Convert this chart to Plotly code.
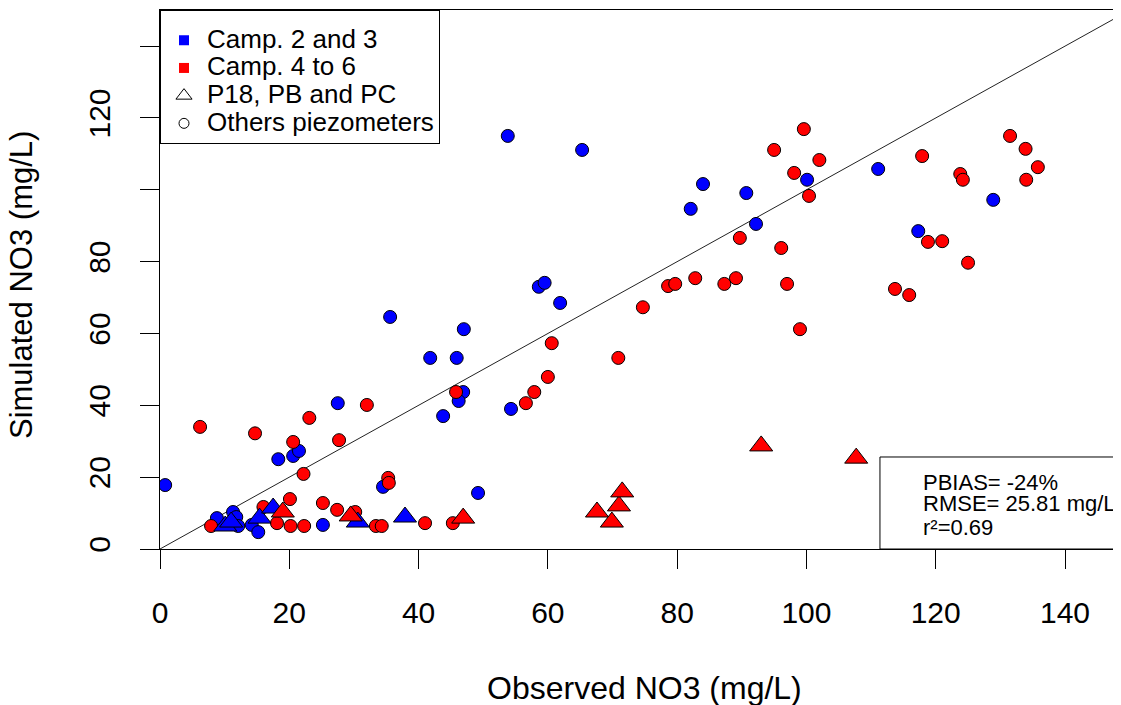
import plotly.graph_objects as go

# ---- data ----
blue_circ_x = [0.8, 8.8, 11.3, 11.8, 12.1, 14.2, 15.2, 25.2, 18.3, 20.6, 21.5, 27.5, 34.5, 49.2,
               35.6, 41.8, 45.9, 47.0, 43.8, 46.9, 46.2, 54.3, 58.6, 59.5, 61.9, 53.8, 65.3,
               82.1, 84.0, 90.7, 92.2, 100.1, 111.1, 117.3, 128.9]
blue_circ_y = [17.8, 8.6, 10.3, 8.9, 6.4, 6.7, 4.7, 6.7, 25.0, 25.9, 27.3, 40.6, 17.3, 15.6,
               64.6, 53.2, 53.2, 61.2, 37.0, 43.7, 41.2, 39.0, 73.0, 74.1, 68.5, 115.0, 111.1,
               94.7, 101.6, 99.1, 90.5, 102.8, 105.8, 88.5, 97.2]

blue_tri_x = [10.1, 11.0, 15.4, 17.5, 30.6, 37.9]
blue_tri_y = [6.4, 7.5, 8.6, 11.4, 7.5, 8.9]

red_circ_x = [6.2, 14.7, 20.6, 23.1, 27.7, 22.2, 20.1, 25.2, 27.4, 7.9, 16.0, 18.1, 20.2, 22.3,
              30.2, 33.4, 34.3, 35.3, 35.4, 41.0, 45.3, 32.0, 45.8, 56.6, 57.9, 60.0, 60.6,
              70.9, 74.7, 78.6, 79.7, 82.8, 87.3, 89.1, 89.7, 95.0, 96.1, 97.0, 98.1, 99.0,
              99.6, 100.4, 102.0, 113.7, 115.9, 117.9, 118.8, 121.0, 123.8, 124.2, 125.0,
              131.5, 133.9, 134.0, 135.8]
red_circ_y = [34.0, 32.2, 29.8, 36.5, 30.3, 20.9, 13.9, 12.8, 10.9, 6.4, 11.7, 7.2, 6.4, 6.4,
              10.3, 6.4, 6.4, 19.8, 18.4, 7.2, 7.2, 40.1, 43.7, 40.6, 43.7, 47.9, 57.3,
              53.2, 67.3, 73.2, 73.8, 75.4, 73.8, 75.4, 86.6, 111.1, 83.8, 73.8, 104.7, 61.2,
              116.9, 98.3, 108.3, 72.4, 70.7, 109.4, 85.5, 85.7, 104.4, 102.8, 79.7,
              115.0, 111.4, 102.8, 106.3]

red_tri_x = [19.0, 29.5, 46.9, 67.6, 69.9, 71.0, 71.5, 93.0, 107.7]
red_tri_y = [10.3, 9.2, 8.6, 10.3, 7.5, 12.0, 15.9, 28.7, 25.3]

ref_line = [0, 150]
x_ticks = [0, 20, 40, 60, 80, 100, 120, 140]
y_ticks = [0, 20, 40, 60, 80, 100, 120, 140]
y_tick_labels = ["0", "20", "40", "60", "80", "", "120", ""]

legend_names = ["Camp. 2 and 3", "Camp. 4 to 6", "P18, PB and PC", "Others piezometers"]
stats_lines = ["PBIAS= -24%", "RMSE= 25.81 mg/L", "r\u00b2=0.69"]

BLUE = "#0000FF"
RED = "#FF0000"
FONT = "Liberation Sans, Arial, sans-serif"

fig = go.Figure()

fig.add_trace(go.Scatter(x=ref_line, y=ref_line, mode="lines",
                         line=dict(color="#222222", width=1), showlegend=False, hoverinfo="skip"))

def pts(x, y, color, symbol, size):
    return go.Scatter(x=x, y=y, mode="markers", showlegend=False,
                      marker=dict(color=color, symbol=symbol, size=size,
                                  line=dict(color="black", width=1)))

fig.add_trace(pts(blue_circ_x, blue_circ_y, BLUE, "circle", 13))
fig.add_trace(pts(red_circ_x, red_circ_y, RED, "circle", 13))
fig.add_trace(pts(blue_tri_x, blue_tri_y, BLUE, "triangle-up", 20))
fig.add_trace(pts(red_tri_x, red_tri_y, RED, "triangle-up", 20))

# legend entries
span = '<span style="font-size:26px">{}</span>'
leg_specs = [
    dict(color=BLUE, symbol="square", size=10, line=dict(width=0)),
    dict(color=RED, symbol="square", size=10, line=dict(width=0)),
    dict(color="black", symbol="triangle-up-open", size=14, line=dict(width=1)),
    dict(color="black", symbol="circle-open", size=10, line=dict(width=1)),
]
for name, mk in zip(legend_names, leg_specs):
    fig.add_trace(go.Scatter(x=[None], y=[None], mode="markers", name=span.format(name),
                             marker=mk, showlegend=True))

# stats box
fig.add_shape(type="rect", xref="paper", yref="paper", x0=0.743, x1=1.02, y0=0, y1=0.1707,
              line=dict(color="black", width=1), fillcolor="white", layer="above")
stat_y = [0.1243, 0.0844, 0.040]
for txt, yy in zip(stats_lines, stat_y):
    fig.add_annotation(text=txt, xref="paper", yref="paper", x=0.7853, y=yy,
                       xanchor="left", yanchor="middle", showarrow=False,
                       font=dict(size=22, color="black", family=FONT))

# axis titles
fig.add_annotation(text="Observed NO3 (mg/L)", xref="paper", yref="paper", x=0.4995, y=-0.2579,
                   xanchor="center", yanchor="middle", showarrow=False,
                   font=dict(size=32, color="black", family=FONT))
fig.add_annotation(text="Simulated NO3 (mg/L)", xref="paper", yref="paper", x=-0.1424, y=0.4898,
                   xanchor="center", yanchor="middle", showarrow=False, textangle=-90,
                   font=dict(size=31, color="black", family=FONT))

axis_common = dict(showgrid=False, zeroline=False, showline=True, linecolor="black", linewidth=1,
                   ticks="outside", ticklen=19, tickwidth=1, tickcolor="black",
                   tickfont=dict(size=30, color="black", family=FONT))

fig.update_layout(
    width=1121, height=705,
    margin=dict(l=152, r=0, t=2, b=164),
    paper_bgcolor="white", plot_bgcolor="white",
    font=dict(family=FONT, color="black"),
    xaxis=dict(range=[0, 149.9], tickvals=x_ticks, ticktext=[str(v) for v in x_ticks],
               mirror=True, ticklabelstandoff=18, **axis_common),
    yaxis=dict(range=[0, 150.06], tickvals=y_ticks, ticktext=y_tick_labels,
               tickangle=-90, ticklabelstandoff=18, **axis_common),
    legend=dict(x=0, y=1, xanchor="left", yanchor="top", bgcolor="white",
                bordercolor="black", borderwidth=1, font=dict(size=19, color="black", family=FONT),
                tracegroupgap=0, itemwidth=36, title=dict(text=" ", font=dict(size=8))),
    showlegend=True,
)

fig.write_html("out.html")
